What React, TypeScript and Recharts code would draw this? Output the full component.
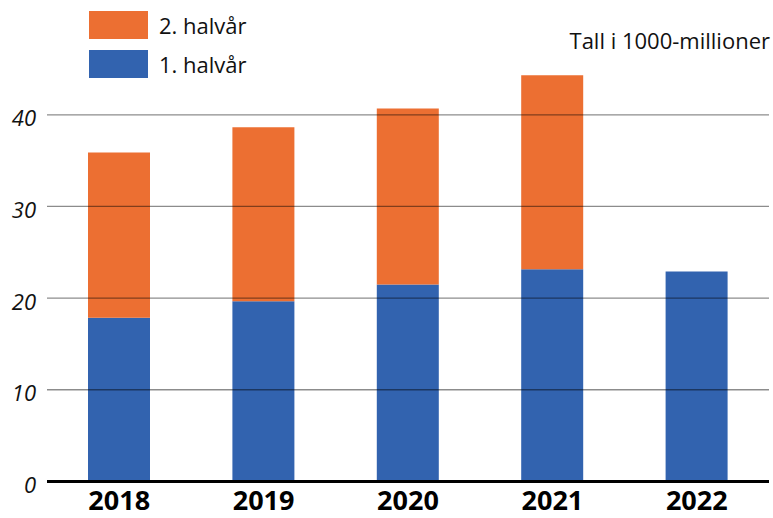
import { BarChart, Bar, XAxis, YAxis, ReferenceLine } from 'recharts';

const years = ['2018', '2019', '2020', '2021', '2022'];
const firstHalf = [17.85, 19.67, 21.49, 23.16, 22.91];
const secondHalf = [18.04, 18.98, 19.2, 21.16, null];
const yTicks = [0, 10, 20, 30, 40];
const gridValues = [10, 20, 30, 40];

const data = years.map((year, i) => ({ year, first: firstHalf[i], second: secondHalf[i] }));

const font = '"Open Sans", sans-serif';
const blue = '#3263AF';
const orange = '#EC6F32';

// legend is shown top-down: second half first
const legendItems = [
  { label: '2. halvår', color: orange },
  { label: '1. halvår', color: blue },
];

const YTick = (props: any) => (
  <text x={props.x} y={props.y + 11.5} textAnchor="end" fontSize={22} fontStyle="italic" fill="#111" fontFamily={font}>
    {props.payload.value}
  </text>
);

const XTick = (props: any) => (
  <text x={props.x} y={510} textAnchor="middle" fontSize={27} fontWeight="bold" fill="#000" fontFamily={font}>
    {props.payload.value}
  </text>
);

export default function App() {
  return (
    <div style={{ position: 'absolute', left: 0, top: 0, width: 773, height: 518, background: '#fff' }}>
      <BarChart width={773} height={518} data={data} margin={{ top: 69, right: 4, left: 0, bottom: 0 }}>
        <XAxis
          dataKey="year"
          height={36.6}
          axisLine={{ stroke: '#000', strokeWidth: 3 }}
          tickLine={false}
          tick={<XTick />}
        />
        <YAxis
          width={47}
          domain={[0, 45]}
          ticks={yTicks}
          axisLine={false}
          tickLine={false}
          tickSize={0}
          tickMargin={11}
          tick={<YTick />}
        />
        <Bar dataKey="first" name="1. halvår" stackId="a" fill={blue} barSize={62} isAnimationActive={false} />
        <Bar dataKey="second" name="2. halvår" stackId="a" fill={orange} barSize={62} isAnimationActive={false} />
        {gridValues.map((v) => (
          <ReferenceLine key={v} y={v} stroke="rgba(0,0,0,0.45)" strokeWidth={1.3} />
        ))}
      </BarChart>
      <div style={{ position: 'absolute', left: 89, top: 5, fontFamily: font }}>
        {legendItems.map((item) => (
          <div key={item.label} style={{ display: 'flex', alignItems: 'center', height: 39 }}>
            <div style={{ width: 59, height: 28, background: item.color }} />
            <span style={{ marginLeft: 11, fontSize: 22, color: '#111' }}>{item.label}</span>
          </div>
        ))}
      </div>
      <div
        style={{
          position: 'absolute',
          right: 3,
          top: 25,
          fontFamily: font,
          fontSize: 22,
          color: '#111',
          whiteSpace: 'nowrap',
        }}
      >
        Tall i 1000-millioner
      </div>
    </div>
  );
}
